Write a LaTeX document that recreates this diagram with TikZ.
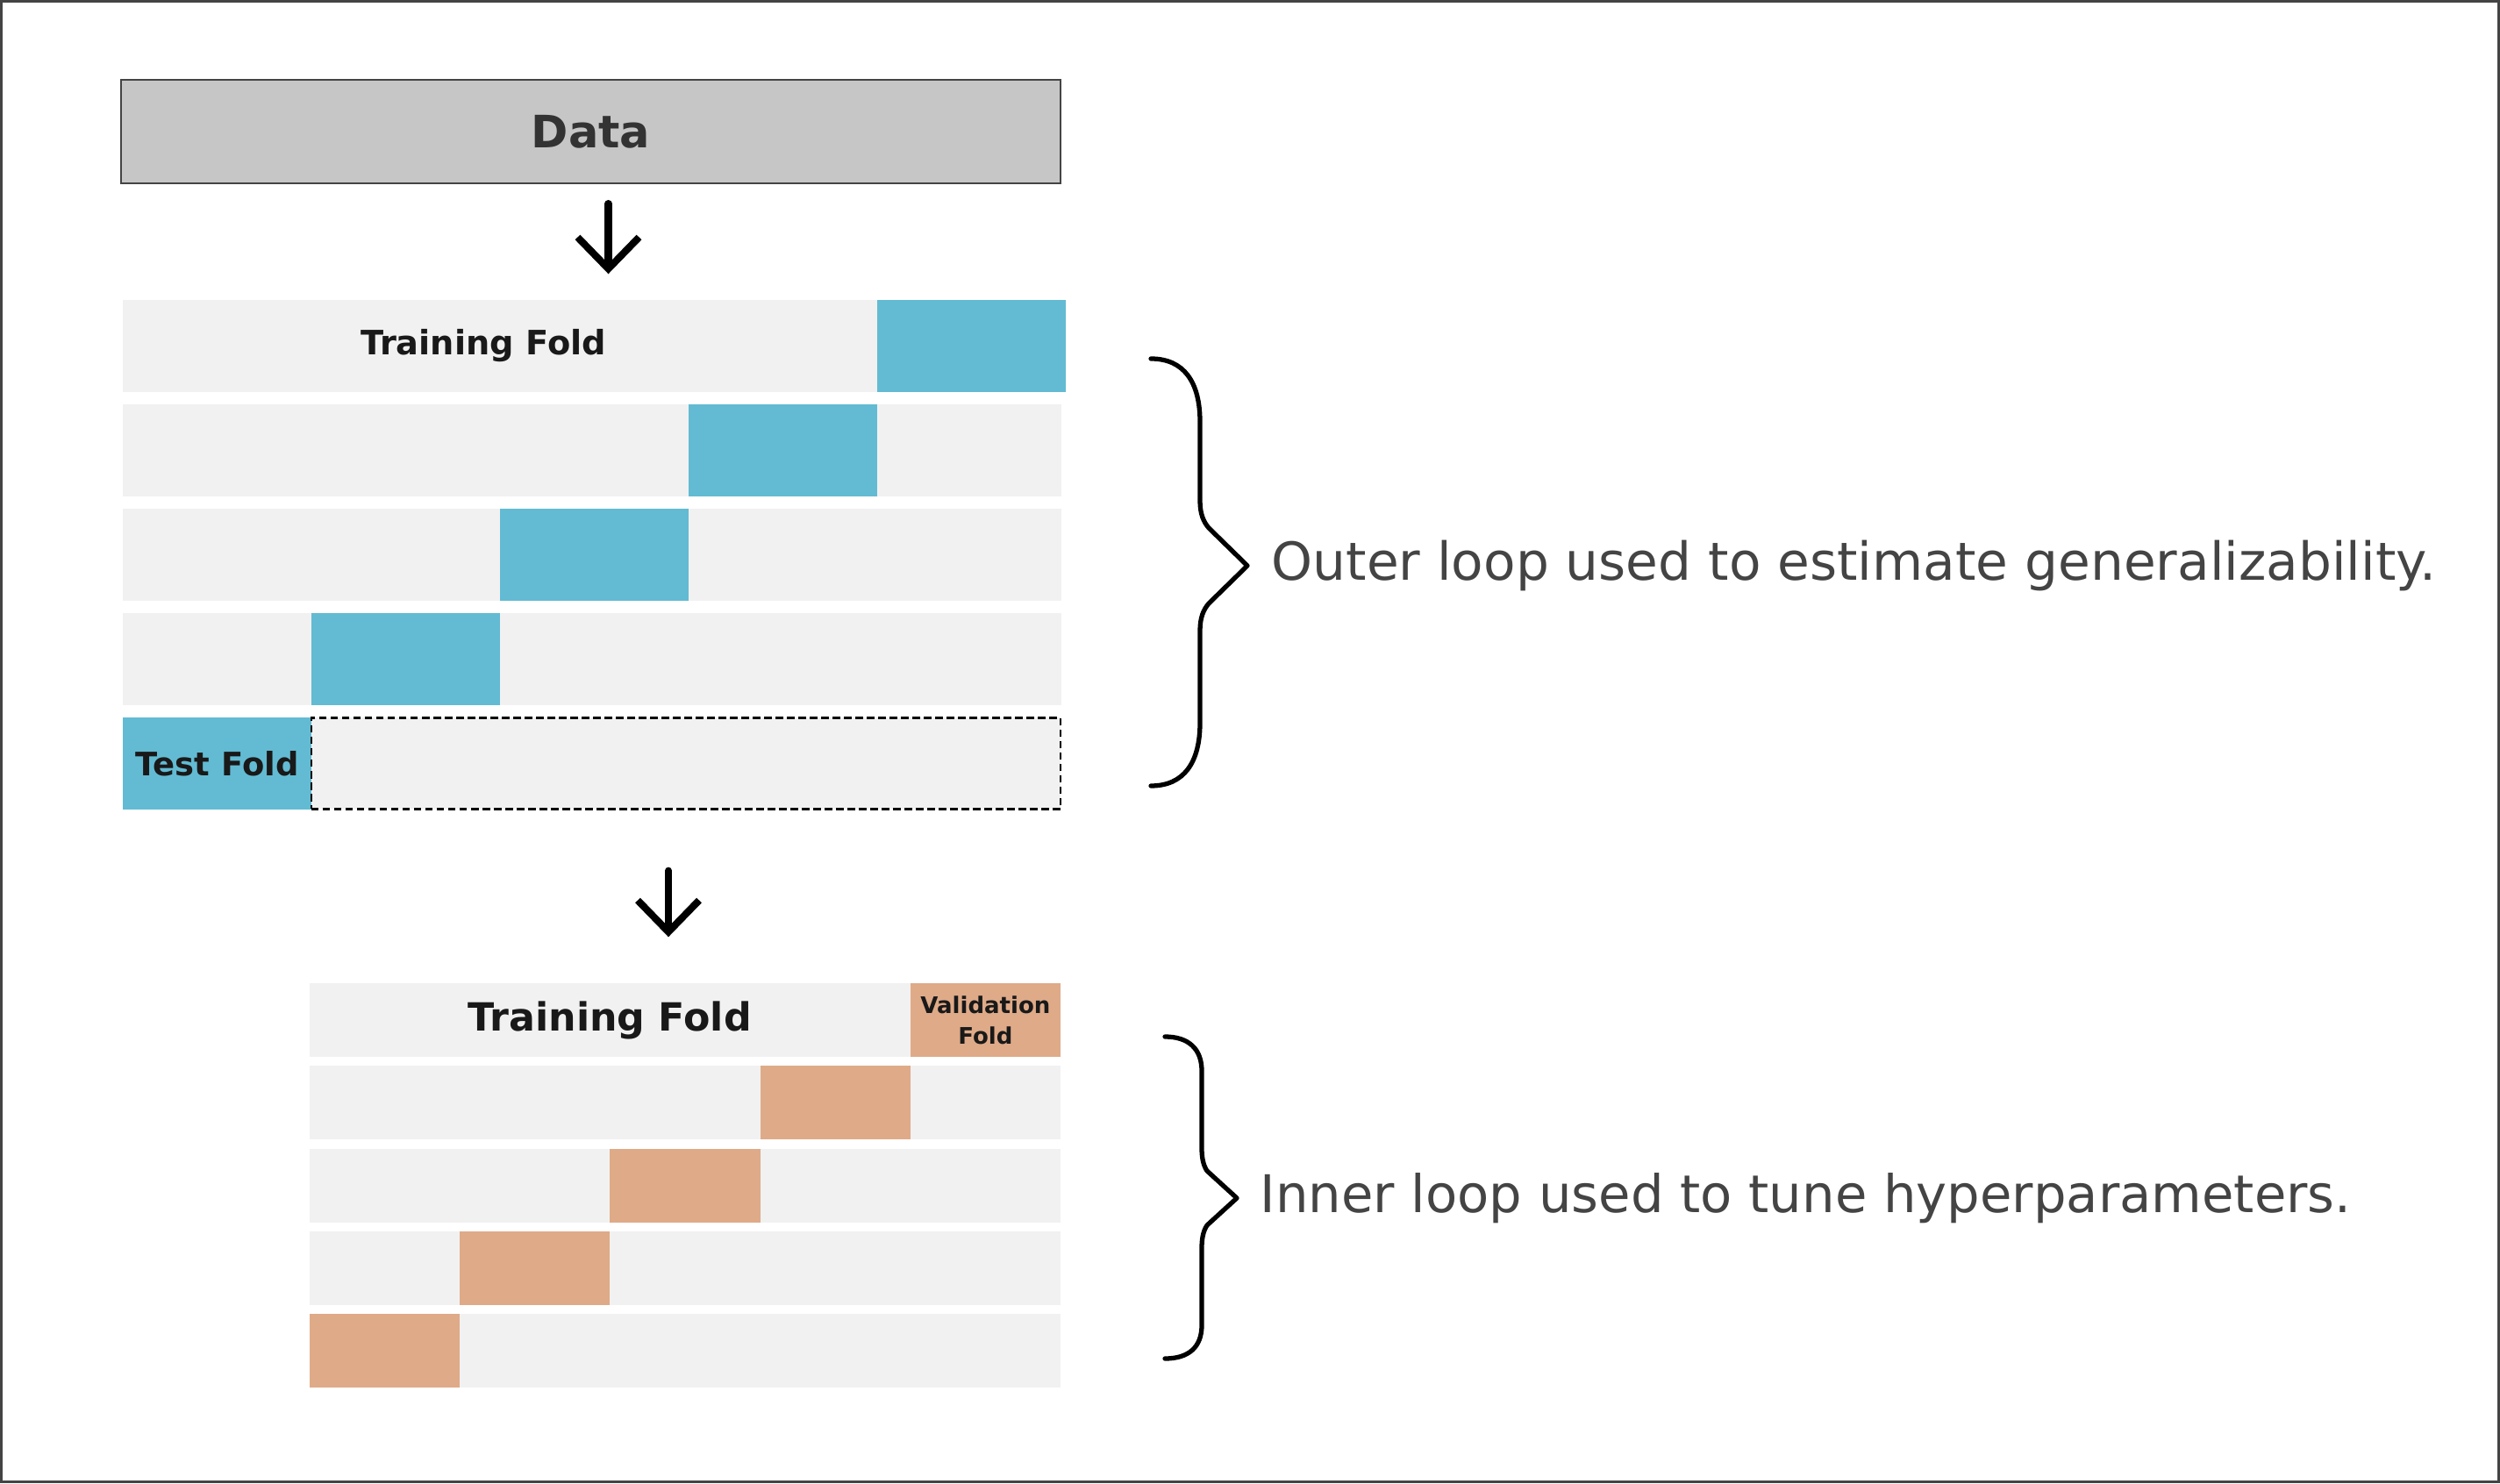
\documentclass[tikz,border=0pt]{standalone}
\usepackage{fontspec}
\setmainfont{DejaVu Sans}
\usetikzlibrary{arrows.meta,positioning}

\definecolor{foldblue}{RGB}{98,187,211}
\definecolor{foldsalmon}{RGB}{223,170,136}
\definecolor{rowgrey}{RGB}{241,241,241}
\definecolor{datagrey}{RGB}{198,198,198}
\definecolor{edgegrey}{RGB}{68,68,68}
\definecolor{textgrey}{RGB}{68,68,68}

\begin{document}
\begin{tikzpicture}[
    outerrow/.style={fill=rowgrey, minimum width=10.70cm, minimum height=1.05cm, inner sep=0pt},
    outerfold/.style={fill=foldblue, minimum width=2.15cm, minimum height=1.05cm, inner sep=0pt},
    innerrow/.style={fill=rowgrey, minimum width=8.56cm, minimum height=0.84cm, inner sep=0pt},
    innerfold/.style={fill=foldsalmon, minimum width=1.712cm, minimum height=0.84cm, inner sep=0pt},
    flow/.style={-{Straight Barb[length=3.6mm, width=7mm]}, line width=2.3pt, line cap=round},
    brace/.style={line width=1.5pt, line cap=round, line join=round},
    foldlabel/.style={font=\bfseries\fontsize{10.5}{12}\selectfont, text=black!90, inner sep=0pt},
    note/.style={font=\fontsize{17}{20}\selectfont, text=textgrey, inner sep=0pt, anchor=west},
]

% === Frame ===
\useasboundingbox (0,0) rectangle (28.5,16.91);
\draw[edgegrey, line width=0.8pt] (0.014,0.014) rectangle (28.486,16.896);

% === Data ===
\node[draw=edgegrey, fill=datagrey, line width=0.6pt, minimum width=10.71cm, minimum height=1.18cm,
      font=\bfseries\fontsize{14.5}{17}\selectfont, text=black!80] (data) at (6.735, 15.41) {Data};

% === Outer loop (test folds) ===
\node[outerrow, minimum width=10.74cm] (o1) at (6.77, 12.965) {};
\node[outerfold] (t1) at (11.075, 12.965) {};
\node[foldlabel, font=\bfseries\fontsize{10.9}{12}\selectfont] (trainout) at (5.51, 12.965) {Training Fold};

\node[outerrow] (o2) at (6.75, 11.775) {};
\node[outerfold] (t2) at (8.925, 11.775) {};

\node[outerrow] (o3) at (6.75, 10.585) {};
\node[outerfold] (t3) at (6.775, 10.585) {};

\node[outerrow] (o4) at (6.75, 9.395) {};
\node[outerfold] (t4) at (4.625, 9.395) {};

% test fold + remaining data
\node[outerfold, foldlabel] (t5) at (2.475, 8.205) {Test Fold};
\node[fill=rowgrey, draw=black, dash pattern=on 2.4pt off 1.3pt, line width=0.6pt,
      minimum width=8.54cm, minimum height=1.04cm, inner sep=0pt] (o5) at (7.82, 8.205) {};

% Data -> outer folds
\draw[flow, shorten <=0.22cm, shorten >=0.29cm]
    ([xshift=2mm]data.south) -- ([xshift=2mm]data.south |- o1.north);

% === Inner loop (validation folds) ===
\node[innerrow] (i1) at (7.81, 5.28) {};
\node[innerfold, font=\bfseries\fontsize{7.4}{9.9}\selectfont, text=black!90, align=center]
    (v1) at (11.234, 5.28) {Validation\\Fold};
\node[foldlabel, font=\bfseries\fontsize{12.6}{14}\selectfont] (trainin) at (6.95, 5.28) {Training Fold};

\node[innerrow] (i2) at (7.81, 4.3375) {};
\node[innerfold] (v2) at (9.522, 4.3375) {};

\node[innerrow] (i3) at (7.81, 3.395) {};
\node[innerfold] (v3) at (7.81, 3.395) {};

\node[innerrow] (i4) at (7.81, 2.4525) {};
\node[innerfold] (v4) at (6.098, 2.4525) {};

\node[innerrow] (i5) at (7.81, 1.51) {};
\node[innerfold] (v5) at (4.386, 1.51) {};

% outer -> inner
\draw[flow, shorten <=0.69cm, shorten >=0.52cm]
    ([xshift=8.7mm]o3.south |- t5.south) -- ([xshift=8.7mm]o3.south |- i1.north);

% === Braces ===
\draw[brace] (13.12, 12.82) .. controls (13.50, 12.82) and (13.68, 12.55) .. (13.68, 12.10)
    -- (13.68, 11.20) .. controls (13.68, 11.05) and (13.72, 10.96) .. (13.78, 10.89)
    -- (14.22, 10.46) -- (13.78, 10.03) .. controls (13.72, 9.96) and (13.68, 9.87) .. (13.68, 9.72)
    -- (13.68, 8.67) .. controls (13.68, 8.22) and (13.50, 7.95) .. (13.12, 7.95);
\node[note] (outernote) at (14.49, 10.46) {Outer loop used to estimate generalizability.};

\draw[brace] (13.28, 5.09) .. controls (13.55, 5.09) and (13.70, 4.95) .. (13.70, 4.70)
    -- (13.70, 3.82) .. controls (13.70, 3.70) and (13.72, 3.62) .. (13.76, 3.56)
    -- (14.10, 3.25) -- (13.76, 2.94) .. controls (13.72, 2.88) and (13.70, 2.80) .. (13.70, 2.68)
    -- (13.70, 1.80) .. controls (13.70, 1.55) and (13.55, 1.42) .. (13.28, 1.42);
\node[note, font=\fontsize{16.85}{20}\selectfont] (innernote) at (14.36, 3.25) {Inner loop used to tune hyperparameters.};

\end{tikzpicture}
\end{document}
